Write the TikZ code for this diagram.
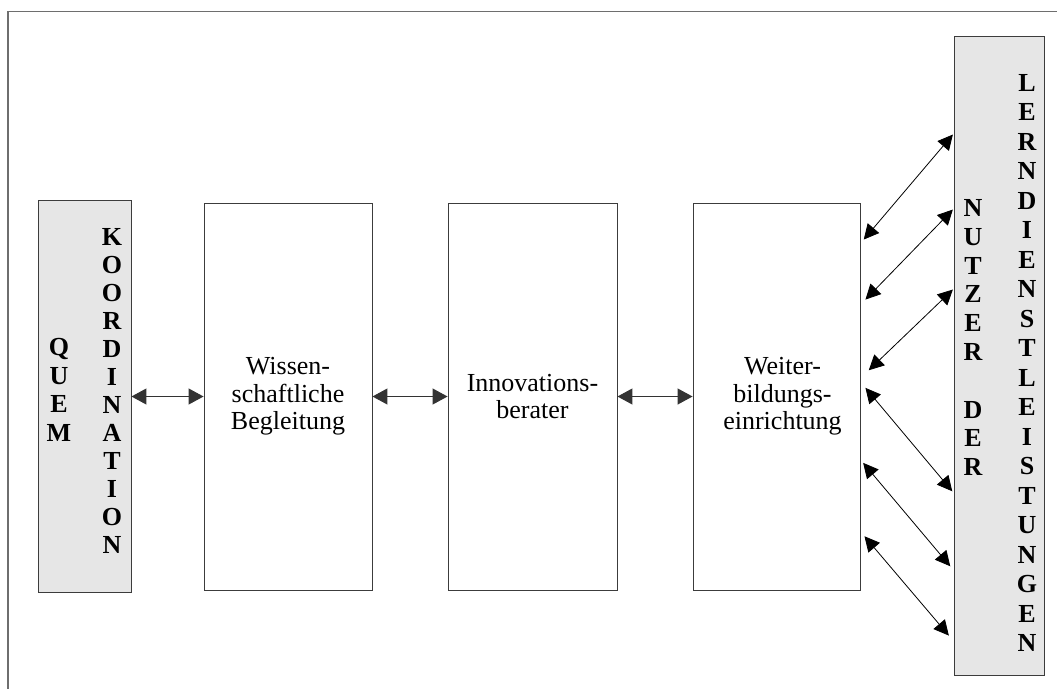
\documentclass[tikz,border=0pt]{standalone}
\usepackage{fontspec}
\setmainfont{Liberation Serif}
\usetikzlibrary{arrows.meta,calc}

\definecolor{panelgrey}{HTML}{E6E6E6}
\definecolor{edgegrey}{HTML}{3C3C3C}
\definecolor{framegrey}{HTML}{6E6E6E}

\tikzset{
  stage/.style={draw=edgegrey, line width=0.9pt, fill=white, inner sep=0pt,
    minimum height=387pt, align=center,
    font=\fontsize{26}{27.5}\selectfont},
  panel/.style={draw=edgegrey, line width=0.9pt, fill=panelgrey, inner sep=0pt},
  letters/.style={inner sep=0pt, align=center},
  link/.style={{Triangle[length=15pt,width=16pt]}-{Triangle[length=15pt,width=16pt]},
    draw=black!80, line width=1.1pt},
  userlink/.style={{Triangle[length=15pt,width=15pt]}-{Triangle[length=15pt,width=15pt]},
    draw=black, line width=0.8pt},
}

\begin{document}
\begin{tikzpicture}[x=1pt, y=-1pt]
  \useasboundingbox (0,0) rectangle (1057,689);

  % outer frame (top and left edge)
  \draw[framegrey, line width=1.5pt] (1057,11.5) -| (8,689);

  % coordination panel on the left
  \node[panel, minimum width=93pt, minimum height=392pt] (quem) at (84.5,396.5) {};
  \node[letters, font=\bfseries\fontsize{26}{28.7}\selectfont] (quemtxt) at (59,390)
    {Q\\U\\E\\M};
  \node[letters, font=\bfseries\fontsize{26}{28}\selectfont] (koordtxt) at (112,391)
    {K\\O\\O\\R\\D\\I\\N\\A\\T\\I\\O\\N};

  % the three stages
  \node[stage, minimum width=168pt] (w) at (288,396.5)
    {Wissen-\\schaftliche\\Begleitung};
  \node[stage, minimum width=169pt] (i) at (532.5,396.5)
    {Innovations-\\berater};
  \node[stage, minimum width=167pt] (b) at (776.5,396.5)
    {\hspace*{12pt}Weiter-\\\hspace*{12pt}bildungs-\\\hspace*{12pt}einrichtung};

  % users panel on the right
  \node[panel, minimum width=90pt, minimum height=639pt] (n) at (999,355.5) {};
  \node[letters, font=\bfseries\fontsize{26}{28.8}\selectfont] (nutzertxt) at (973,337.5)
    {N\\U\\T\\Z\\E\\R\\[28.8pt]D\\E\\R};
  \node[letters, font=\bfseries\fontsize{26}{29.5}\selectfont] (lerntxt) at (1027,363)
    {L\\E\\R\\N\\D\\I\\E\\N\\S\\T\\L\\E\\I\\S\\T\\U\\N\\G\\E\\N};

  % links along the chain
  \draw[link] (quem.east) -- (w.west);
  \draw[link] (w.east) -- (i.west);
  \draw[link] (i.east) -- (b.west);

  % end points of the links to the users
  \coordinate (l1) at ($(b.north east)+(3.3,37)$);
  \coordinate (l2) at ($(b.north east)+(5,97)$);
  \coordinate (l3) at ($(b.north east)+(8.3,167.7)$);
  \coordinate (l4) at ($(b.north east)+(5,185.3)$);
  \coordinate (l5) at ($(b.north east)+(2.7,260.3)$);
  \coordinate (l6) at ($(b.north east)+(4,333.7)$);
  \coordinate (r1) at ($(n.north west)+(-0.7,99)$);
  \coordinate (r2) at ($(n.north west)+(-0.7,174)$);
  \coordinate (r3) at ($(n.north west)+(-0.7,254)$);
  \coordinate (r4) at ($(n.north west)+(-1.3,455.7)$);
  \coordinate (r5) at ($(n.north west)+(-3.3,530.7)$);
  \coordinate (r6) at ($(n.north west)+(-4.7,600)$);

  \foreach \k in {1,...,6}
    \draw[userlink] (l\k) -- (r\k);
\end{tikzpicture}
\end{document}
